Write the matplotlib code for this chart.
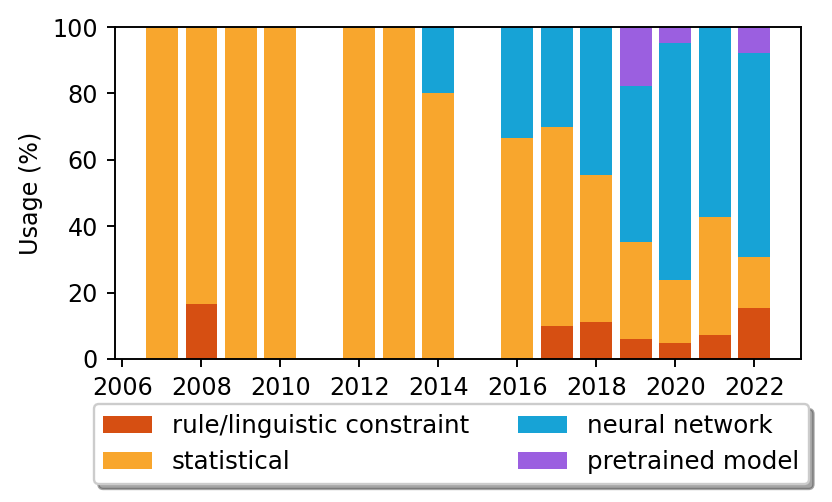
import matplotlib
matplotlib.use("Agg")
import matplotlib.pyplot as plt
import numpy as np

# Usage (%) per year, by method family
years = [2007, 2008, 2009, 2010, 2012, 2013, 2014, 2016, 2017, 2018, 2019, 2020, 2021, 2022]
rule = [0, 16.7, 0, 0, 0, 0, 0, 0, 10.0, 11.1, 5.9, 4.8, 7.1, 15.4]
statistical = [100, 83.3, 100, 100, 100, 100, 80.0, 66.7, 60.0, 44.4, 29.4, 19.0, 35.7, 15.4]
neural = [0, 0, 0, 0, 0, 0, 20.0, 33.3, 30.0, 44.5, 47.1, 71.4, 57.2, 61.5]
pretrained = [0, 0, 0, 0, 0, 0, 0, 0, 0, 0, 17.6, 4.8, 0, 7.7]

labels = ["rule/linguistic constraint", "statistical", "neural network", "pretrained model"]
colors = ["#D64F12", "#F8A62D", "#17A3D6", "#9B5FE0"]

plt.rcParams["font.size"] = 10

fig = plt.figure(figsize=(832 / 172, 502 / 172), dpi=172)
ax = fig.add_axes([0.138, 0.285, 0.825, 0.661])

series = [rule, statistical, neural, pretrained]
bottom = np.zeros(len(years))
handles = []
for vals, lab, col in zip(series, labels, colors):
    b = ax.bar(years, vals, width=0.8, bottom=bottom, color=col, label=lab)
    handles.append(b)
    bottom += np.array(vals)

ax.set_ylim(0, 100)
ax.set_xticks(range(2006, 2023, 2))
ax.set_ylabel("Usage (%)")

ax.legend(handles=handles, ncol=2, loc="upper center",
          bbox_to_anchor=(0.49, -0.10), fontsize=10.25,
          shadow=True, fancybox=True)

plt.savefig("out.png", dpi=172)
